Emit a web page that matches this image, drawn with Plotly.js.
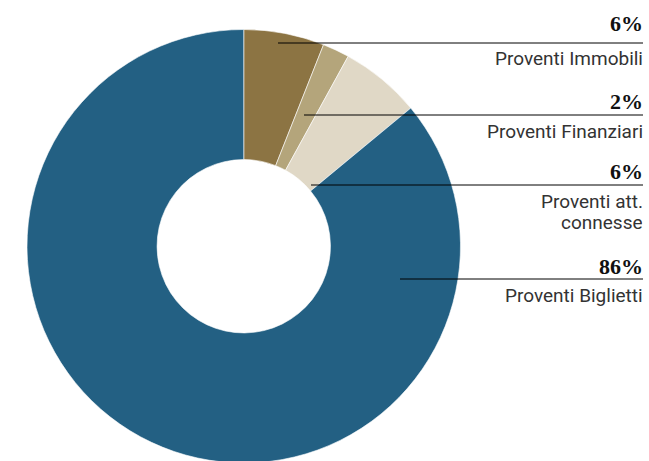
<!DOCTYPE html>
<html>
<head>
<meta charset="utf-8">
<script src="https://cdn.plot.ly/plotly-3.0.1.min.js"></script>
<style>
html,body{margin:0;padding:0;background:#fff;overflow:hidden;}
#chart{width:649px;height:463px;}
</style>
</head>
<body>
<div id="chart"></div>
<script>
var categories = ["Proventi Immobili", "Proventi Finanziari", "Proventi att.<br>connesse", "Proventi Biglietti"];
var values = [6, 2, 6, 86];
var pctLabels = ["6%", "2%", "6%", "86%"];
var colors = ["#8C7443", "#B4A57B", "#E0D8C6", "#236083"];

var W = 649, H = 463;
function px(x){ return x / W; }
function py(y){ return 1 - y / H; }

// leader line / label geometry (pixels)
var lineY = [43, 115, 185, 279];
var lineX0 = [278, 304, 311, 400];
var lineX1 = 643;
var pctCenterY = [24, 101, 171, 266];
var lineStep = 21;

var shapes = [], annotations = [];
for (var i = 0; i < categories.length; i++) {
  shapes.push({type:'line', xref:'paper', yref:'paper',
    x0:px(lineX0[i]), x1:px(lineX1), y0:py(lineY[i]), y1:py(lineY[i]),
    line:{color:'#000', width:1}});
  annotations.push({xref:'paper', yref:'paper', x:px(lineX1 + 1), y:py(pctCenterY[i]),
    xanchor:'right', yanchor:'middle', showarrow:false, borderpad:0,
    text:'<b>'+pctLabels[i]+'</b>',
    font:{family:'Liberation Serif, serif', size:22, color:'#111'}});
  var parts = categories[i].split('<br>');
  for (var j = 0; j < parts.length; j++) {
    var ann = {xref:'paper', yref:'paper', x:px(lineX1 + 1), y:py(lineY[i]+16+lineStep*j),
      xanchor:'right', yanchor:'middle', align:'right', showarrow:false, borderpad:0,
      text:parts[j],
      font:{family:'Roboto, sans-serif', size:19, color:'#333'}};
    if (parts.length > 1) ann.height = lineStep - 1;
    annotations.push(ann);
  }
}

var data = [{
  type:'pie',
  labels:categories,
  values:values,
  sort:false,
  direction:'clockwise',
  rotation:0,
  hole:0.40,
  textinfo:'none',
  hoverinfo:'none',
  marker:{colors:colors, line:{color:'#ffffff', width:0.6}},
  domain:{x:[27/W, 460.5/W], y:[0, 433.5/H]},
  showlegend:false
}];

var layout = {
  width:W, height:H,
  margin:{l:0, r:0, t:0, b:0},
  paper_bgcolor:'#fff',
  showlegend:false,
  shapes:shapes,
  annotations:annotations
};

Plotly.newPlot('chart', data, layout, {displayModeBar:false, staticPlot:true});
</script>
</body>
</html>
